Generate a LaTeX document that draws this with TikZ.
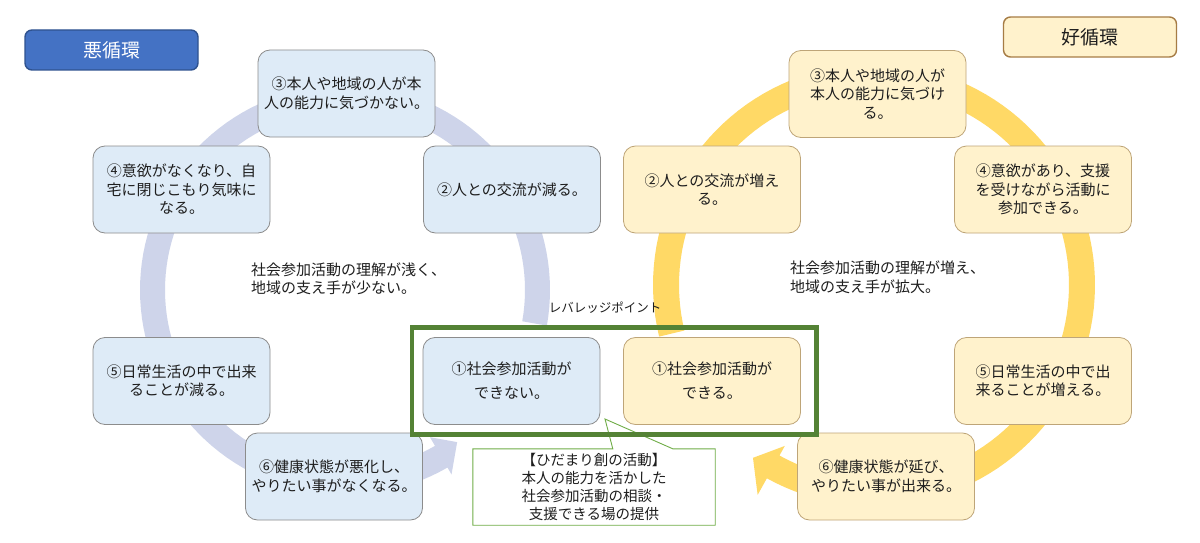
\documentclass[tikz,border=0pt]{standalone}
\usepackage{fontspec}
\setmainfont{Noto Sans CJK JP}
\definecolor{ringL}{RGB}{206,212,234}
\definecolor{ringR}{RGB}{255,217,102}
\definecolor{boxLfill}{RGB}{222,235,247}
\definecolor{boxLline}{RGB}{140,140,140}
\definecolor{boxRfill}{RGB}{255,242,204}
\definecolor{boxRline}{RGB}{190,165,120}
\definecolor{txt}{RGB}{30,30,30}
\definecolor{frameG}{RGB}{84,130,53}
\definecolor{callG}{RGB}{112,173,71}
\definecolor{badfill}{RGB}{68,114,196}
\definecolor{badline}{RGB}{47,82,143}
\definecolor{goodline}{RGB}{166,124,69}
\begin{document}
\begin{tikzpicture}[x=1pt,y=-1pt,
  lbox/.style={draw=boxLline, fill=boxLfill, rounded corners=12pt, minimum width=177pt,
    minimum height=87pt, align=center, font=\fontsize{15}{18.5}\selectfont, text=txt,
    inner sep=2pt, line width=0.8pt},
  rbox/.style={lbox, draw=boxRline, fill=boxRfill},
  onebox/.style={font=\fontsize{15}{24}\selectfont},
  plain/.style={align=left, font=\fontsize{15}{18.5}\selectfont, text=txt, inner sep=0pt},
  titlebox/.style={rounded corners=7pt, minimum width=173pt, minimum height=40pt,
    font=\fontsize{19}{22}\selectfont, line width=1.4pt, inner sep=0pt}]
\useasboundingbox (0,0) rectangle (1200,543);
\fill[white] (0,0) rectangle (1200,543);
% rings
\fill[ringL] plot[domain=0:310, samples=120] ({345+205*cos(10-\x)},{290+205*sin(10-\x)})
  -- ({345+213*cos(-300)},{290+213*sin(-300)})
  -- ({345+189*cos(-306.4)},{290+189*sin(-306.4)})
  -- ({345+170*cos(-300)},{290+170*sin(-300)})
  -- plot[domain=0:310, samples=120] ({345+180*cos(-300+\x)},{290+180*sin(-300+\x)}) -- cycle;
\fill[ringR] plot[domain=0:312.5, samples=120] ({874+221*cos(166.5+\x)},{285+221*sin(166.5+\x)})
  -- ({874+240*cos(479)},{285+240*sin(479)})
  -- ({874+211*cos(485)},{285+211*sin(485)})
  -- ({874+184*cos(479)},{285+184*sin(479)})
  -- plot[domain=0:312.5, samples=120] ({874+195*cos(479-\x)},{285+195*sin(479-\x)}) -- cycle;
% titles
\node[titlebox, fill=badfill, draw=badline, text=white] (bad) at (111.5,50) {悪循環};
\node[titlebox, fill=boxRfill, draw=goodline, text=txt] (good) at (1090,37) {好循環};
% left cycle
\node[lbox] (L3) at (346.5,93.5) {③本人や地域の人が本\\人の能力に気づかない。};
\node[lbox] (L4) at (181.5,189.5) {④意欲がなくなり、自\\宅に閉じこもり気味に\\なる。};
\node[lbox] (L2) at (512,189.5) {②人との交流が減る。};
\node[lbox] (L5) at (181.5,381) {⑤日常生活の中で出来\\ることが減る。};
\node[lbox, onebox] (L1) at (511.5,381) {①社会参加活動が\\できない。};
\node[lbox] (L6) at (334,476.5) {⑥健康状態が悪化し、\\やりたい事がなくなる。};
\node[plain, anchor=west] (Lc) at (251,279) {社会参加活動の理解が浅く、\\地域の支え手が少ない。};
% right cycle
\node[rbox] (R3) at (877.5,94) {③本人や地域の人が\\本人の能力に気づけ\\る。};
\node[rbox] (R2) at (712,189.5) {②人との交流が増え\\る。};
\node[rbox] (R4) at (1043,189.5) {④意欲があり、支援\\を受けながら活動に\\参加できる。};
\node[rbox, onebox] (R1) at (712,381) {①社会参加活動が\\できる。};
\node[rbox] (R5) at (1043,381) {⑤日常生活の中で出\\来ることが増える。};
\node[rbox] (R6) at (886,476.5) {⑥健康状態が延び、\\やりたい事が出来る。};
\node[plain, anchor=west] (Rc) at (790,277.5) {社会参加活動の理解が増え、\\地域の支え手が拡大。};
% leverage point
\node[text=txt, font=\fontsize{12.5}{14}\selectfont, inner sep=0pt] (levl) at (605,308) {レバレッジポイント};
% callout
\node[minimum width=242pt, minimum height=76pt, inner sep=0pt] (call) at (594,487) {};
\coordinate (ptip) at (605,419);
\fill[white, draw=callG, line width=0.9pt] (call.north west) -- ([xshift=140pt]call.north west)
  -- (ptip) -- ([xshift=200pt]call.north west) -- (call.north east) -- (call.south east)
  -- (call.south west) -- cycle;
\node[align=center, text=txt, font=\fontsize{14.5}{18}\selectfont, inner sep=0pt] at (call.center)
  {【ひだまり創の活動】\\本人の能力を活かした\\社会参加活動の相談・\\支援できる場の提供};
% frame
\node[draw=frameG, line width=4.5pt, minimum width=404.5pt, minimum height=107pt, inner sep=0pt] (lev) at (614.25,381) {};
\end{tikzpicture}
\end{document}
